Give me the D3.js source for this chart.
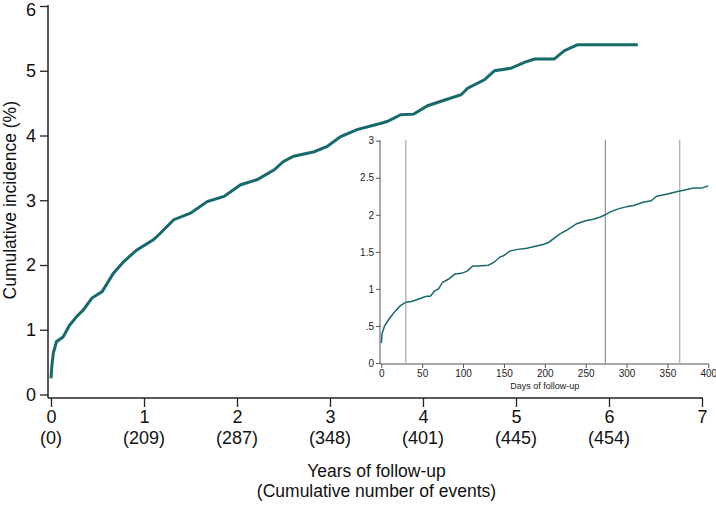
<!DOCTYPE html>
<html>
<head>
<meta charset="utf-8">
<script src="https://cdn.jsdelivr.net/npm/d3@7"></script>
<style>
  body { margin: 0; background: #fff; }
  svg { display: block; font-family: "Liberation Sans", Arial, sans-serif; }
</style>
</head>
<body>
<div id="chart"></div>
<script>
// Main curve: years of follow-up vs cumulative incidence (%)
const years = [0, 0.01, 0.025, 0.06, 0.13, 0.2, 0.28, 0.35, 0.44, 0.55, 0.67, 0.78, 0.92, 1.1, 1.14,
  1.32, 1.5, 1.68, 1.86, 2.04, 2.22, 2.4, 2.5, 2.61, 2.83, 2.97, 3.11, 3.29, 3.55, 3.62,
  3.76, 3.9, 4.05, 4.26, 4.41, 4.48, 4.66, 4.77, 4.95, 5.09, 5.2, 5.41, 5.52, 5.66, 6.31];
const incidence = [0.25, 0.45, 0.64, 0.82, 0.89, 1.07, 1.21, 1.31, 1.49, 1.59, 1.87, 2.05, 2.23, 2.39, 2.44,
  2.7, 2.8, 2.98, 3.06, 3.24, 3.32, 3.47, 3.6, 3.68, 3.75, 3.83, 3.98, 4.09, 4.19, 4.22,
  4.32, 4.33, 4.46, 4.56, 4.63, 4.73, 4.86, 5.0, 5.04, 5.13, 5.18, 5.18, 5.31, 5.4, 5.4];

// Inset: first 400 days
const days = [0, 1, 4, 10, 17, 23, 30, 37, 45, 55, 60, 65, 70, 75, 82, 90, 98, 105, 112, 118, 131,
  138, 145, 150, 157, 165, 178, 190, 198, 205, 218, 228, 239, 250, 259, 268, 274, 280, 290, 300,
  310, 320, 330, 337, 350, 361, 370, 382, 392, 400];
const insetIncidence = [0.27, 0.4, 0.5, 0.6, 0.7, 0.77, 0.82, 0.83, 0.86, 0.9, 0.9, 0.97, 1.0, 1.09, 1.13,
  1.2, 1.21, 1.24, 1.31, 1.31, 1.32, 1.36, 1.43, 1.45, 1.51, 1.53, 1.55, 1.58, 1.6, 1.63, 1.74,
  1.8, 1.88, 1.92, 1.94, 1.97, 2.0, 2.04, 2.08, 2.11, 2.13, 2.17, 2.19, 2.25, 2.28, 2.31, 2.33,
  2.36, 2.36, 2.39];
const markerDays = [30, 274, 365];

const yearTicks = [0, 1, 2, 3, 4, 5, 6, 7];
const eventCounts = ["(0)", "(209)", "(287)", "(348)", "(401)", "(445)", "(454)", ""];
const pctTicks = [0, 1, 2, 3, 4, 5, 6];
const dayTicks = [0, 50, 100, 150, 200, 250, 300, 350, 400];
const insetPctTicks = [0, 0.5, 1, 1.5, 2, 2.5, 3];
const insetPctLabels = ["0", ".5", "1", "1.5", "2", "2.5", "3"];

const W = 716, H = 506;
const teal = "#17696b";
const font = "Liberation Sans, Arial, sans-serif";

const svg = d3.select("#chart").append("svg")
  .attr("width", W).attr("height", H);

// ---- main plot ----
const x = d3.scaleLinear().domain([0, 7]).range([51, 702]);
const y = d3.scaleLinear().domain([0, 6]).range([394.5, 6]);
const axisX = 48, axisY = 398;

const yAxis = svg.append("g")
  .attr("transform", `translate(${axisX},0)`)
  .call(d3.axisLeft(y).tickValues(pctTicks).tickFormat(d3.format("d"))
    .tickSize(8).tickSizeOuter(0).tickPadding(4));
yAxis.select(".domain").remove();
yAxis.selectAll("line").attr("stroke", "#222").attr("stroke-width", 1.3);
yAxis.selectAll("text").attr("font-size", 18).attr("fill", "#111").attr("font-family", font)
  .attr("dy", d => d === 6 ? "0.5em" : "0.32em");

const xAxis = svg.append("g")
  .attr("transform", `translate(0,${axisY})`)
  .call(d3.axisBottom(x).tickValues(yearTicks).tickFormat(d3.format("d"))
    .tickSize(9).tickSizeOuter(0).tickPadding(3));
xAxis.select(".domain").remove();
xAxis.selectAll("line").attr("stroke", "#222").attr("stroke-width", 1.3);
xAxis.selectAll("text").attr("font-size", 18).attr("fill", "#111").attr("font-family", font);

// event counts below the year ticks
svg.append("g").selectAll("text")
  .data(yearTicks)
  .join("text")
  .attr("x", d => x(d))
  .attr("y", 444)
  .attr("text-anchor", "middle")
  .attr("font-size", 18)
  .attr("fill", "#111")
  .text((d, i) => eventCounts[i]);

// axis lines
svg.append("line")
  .attr("x1", axisX).attr("x2", axisX)
  .attr("y1", y(6) - 1).attr("y2", axisY)
  .attr("stroke", "#222").attr("stroke-width", 1.5);
svg.append("line")
  .attr("x1", axisX).attr("x2", x(7) + 1)
  .attr("y1", axisY).attr("y2", axisY)
  .attr("stroke", "#222").attr("stroke-width", 1.5);

// axis titles
svg.append("text")
  .attr("transform", `translate(16,${(y(0) + y(6)) / 2}) rotate(-90)`)
  .attr("text-anchor", "middle")
  .attr("font-size", 17.5)
  .attr("fill", "#111")
  .text("Cumulative incidence (%)");

svg.append("text")
  .attr("x", (x(0) + x(7)) / 2)
  .attr("y", 477)
  .attr("text-anchor", "middle")
  .attr("font-size", 17.5)
  .attr("fill", "#111")
  .text("Years of follow-up");
svg.append("text")
  .attr("x", (x(0) + x(7)) / 2)
  .attr("y", 497)
  .attr("text-anchor", "middle")
  .attr("font-size", 17.5)
  .attr("fill", "#111")
  .text("(Cumulative number of events)");

// main curve
const mainLine = d3.line()
  .x((d, i) => x(years[i]))
  .y(d => y(d));
svg.append("path")
  .datum(incidence)
  .attr("d", mainLine)
  .attr("fill", "none")
  .attr("stroke", teal)
  .attr("stroke-width", 3);

// ---- inset ----
const ix = d3.scaleLinear().domain([0, 400]).range([381.3, 708.3]);
const iy = d3.scaleLinear().domain([0, 3]).range([363, 140.7]);
const iAxisX = 380, iAxisY = 364;

const iyAxis = svg.append("g")
  .attr("transform", `translate(${iAxisX},0)`)
  .call(d3.axisLeft(iy).tickValues(insetPctTicks)
    .tickFormat((d, i) => insetPctLabels[i]).tickSize(4).tickSizeOuter(0).tickPadding(2));
iyAxis.select(".domain").remove();
iyAxis.selectAll("line").attr("stroke", "#555");
iyAxis.selectAll("text").attr("font-size", 10).attr("fill", "#222").attr("font-family", font);

const ixAxis = svg.append("g")
  .attr("transform", `translate(0,${iAxisY})`)
  .call(d3.axisBottom(ix).tickValues(dayTicks).tickSize(4).tickSizeOuter(0).tickPadding(2));
ixAxis.select(".domain").remove();
ixAxis.selectAll("line").attr("stroke", "#555");
ixAxis.selectAll("text").attr("font-size", 10).attr("fill", "#222").attr("font-family", font);

svg.append("line")
  .attr("x1", iAxisX).attr("x2", iAxisX)
  .attr("y1", iy(3) - 0.5).attr("y2", iAxisY)
  .attr("stroke", "#555").attr("stroke-width", 1);
svg.append("line")
  .attr("x1", iAxisX).attr("x2", ix(400) + 0.5)
  .attr("y1", iAxisY).attr("y2", iAxisY)
  .attr("stroke", "#555").attr("stroke-width", 1);

svg.append("text")
  .attr("x", (ix(0) + ix(400)) / 2)
  .attr("y", 389)
  .attr("text-anchor", "middle")
  .attr("font-size", 9)
  .attr("fill", "#222")
  .text("Days of follow-up");

// vertical marker lines
svg.append("g").selectAll("line")
  .data(markerDays)
  .join("line")
  .attr("x1", d => ix(d)).attr("x2", d => ix(d))
  .attr("y1", iy(3) - 1).attr("y2", iy(0))
  .attr("stroke", (d, i) => i === 1 ? "#7a7a7a" : "#b4b4b4")
  .attr("stroke-width", (d, i) => i === 1 ? 1 : 1.4);

// inset curve
const insetLine = d3.line()
  .x((d, i) => ix(days[i]))
  .y(d => iy(d));
svg.append("path")
  .datum(insetIncidence)
  .attr("d", insetLine)
  .attr("fill", "none")
  .attr("stroke", teal)
  .attr("stroke-width", 1.5);
</script>
</body>
</html>
